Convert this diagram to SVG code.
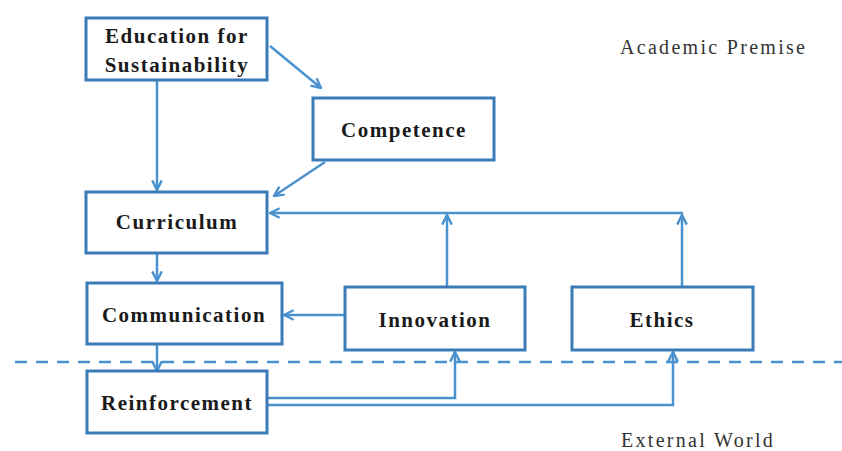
<svg xmlns="http://www.w3.org/2000/svg" width="842" height="451" viewBox="0 0 842 451">
<style>
.box{fill:#fff;stroke:#3b7bb8;stroke-width:3}
.lbl{font-family:"Liberation Serif","Times New Roman",serif;font-weight:bold;font-size:21px;letter-spacing:1.5px;fill:#1a1a1a;text-anchor:middle}
.note{font-family:"Liberation Serif","Times New Roman",serif;font-size:20px;letter-spacing:2.3px;fill:#333}
.con{fill:none;stroke:#4a92cf;stroke-width:2.5}
</style>
<defs>
<marker id="arr" viewBox="0 0 10 10" refX="9" refY="5" markerWidth="12" markerHeight="12" markerUnits="userSpaceOnUse" orient="auto">
<path d="M1,1 L9,5 L1,9" fill="none" stroke="#4a92cf" stroke-width="2"/>
</marker>
</defs>
<rect width="842" height="451" fill="#fff"/>
<g id="connectors">
<path class="con" d="M157,80 L157,190" marker-end="url(#arr)"/>
<path class="con" d="M270,46 L321,88" marker-end="url(#arr)"/>
<path class="con" d="M325,162 L274,196" marker-end="url(#arr)"/>
<path class="con" d="M157,253 L157,281" marker-end="url(#arr)"/>
<path class="con" d="M157,344 L157,371" marker-end="url(#arr)"/>
<path class="con" d="M345,315 L284,315" marker-end="url(#arr)"/>
<path class="con" d="M447,287 L447,215" marker-end="url(#arr)"/>
<path class="con" d="M682,287 L682,215" marker-end="url(#arr)"/>
<path class="con" d="M683,213 L270,213" marker-end="url(#arr)"/>
<path class="con" d="M267,398 L455,398 L455,352" marker-end="url(#arr)"/>
<path class="con" d="M267,405 L673,405 L673,352" marker-end="url(#arr)"/>
<path id="boundary" d="M15,362 L842,362" fill="none" stroke="#4a92cf" stroke-width="2.5" stroke-dasharray="12,9"/>
</g>
<g id="education">
<rect class="box" x="86" y="18" width="181" height="62"/>
<text class="lbl" x="177" y="43">Education for</text>
<text class="lbl" x="177" y="72">Sustainability</text>
</g>
<g id="competence">
<rect class="box" x="313" y="98" width="181" height="62"/>
<text class="lbl" x="404" y="137">Competence</text>
</g>
<g id="curriculum">
<rect class="box" x="86" y="192" width="181" height="61"/>
<text class="lbl" x="177" y="229">Curriculum</text>
</g>
<g id="communication">
<rect class="box" x="87" y="283" width="195" height="61"/>
<text class="lbl" x="184" y="322">Communication</text>
</g>
<g id="innovation">
<rect class="box" x="345" y="287" width="180" height="63"/>
<text class="lbl" x="435" y="327">Innovation</text>
</g>
<g id="ethics">
<rect class="box" x="572" y="287" width="181" height="63"/>
<text class="lbl" x="662" y="327">Ethics</text>
</g>
<g id="reinforcement">
<rect class="box" x="87" y="371" width="180" height="62"/>
<text class="lbl" x="177" y="410">Reinforcement</text>
</g>
<text class="note" x="620" y="54">Academic Premise</text>
<text class="note" x="621" y="447">External World</text>
</svg>
